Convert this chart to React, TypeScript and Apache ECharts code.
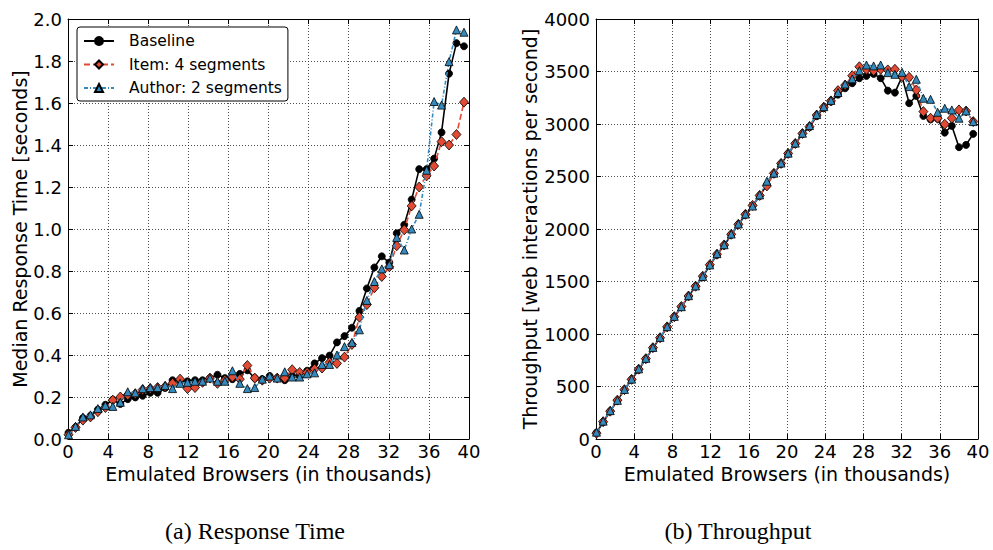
import React, { useEffect, useRef } from "react";
import * as echarts from "echarts";

// Emulated browsers (thousands)
const browsers = [
  0.05, 0.75, 1.49, 2.24, 2.98, 3.73, 4.47, 5.22, 5.96, 6.71, 7.45, 8.2, 8.94, 9.69,
  10.43, 11.18, 11.92, 12.67, 13.42, 14.16, 14.91, 15.65, 16.4, 17.14, 17.89, 18.63,
  19.38, 20.12, 20.87, 21.62, 22.36, 23.11, 23.85, 24.6, 25.34, 26.09, 26.83, 27.58,
  28.32, 29.07, 29.81, 30.56, 31.3, 32.05, 32.79, 33.54, 34.28, 35.03, 35.77, 36.52,
  37.26, 38.01, 38.75, 39.5,
];

const seriesNames = ["Baseline", "Item: 4 segments", "Author: 2 segments"];

// Median response time (seconds)
const rtBaseline = [
  0.03, 0.056, 0.1, 0.11, 0.14, 0.163, 0.187, 0.167, 0.19, 0.198, 0.206, 0.22, 0.22, 0.243,
  0.28, 0.278, 0.275, 0.28, 0.28, 0.29, 0.306, 0.29, 0.285, 0.31, 0.327, 0.29, 0.285, 0.3,
  0.29, 0.28, 0.3, 0.3, 0.325, 0.36, 0.385, 0.397, 0.46, 0.49, 0.53, 0.61, 0.717, 0.817,
  0.87, 0.84, 0.98, 1.02, 1.14, 1.285, 1.285, 1.335, 1.46, 1.74, 1.885, 1.87,
];
const rtItem = [
  0.02, 0.055, 0.09, 0.105, 0.13, 0.15, 0.185, 0.2, 0.21, 0.215, 0.235, 0.24, 0.245, 0.25,
  0.265, 0.285, 0.24, 0.245, 0.27, 0.29, 0.265, 0.28, 0.295, 0.285, 0.35, 0.29, 0.28, 0.29,
  0.29, 0.29, 0.33, 0.317, 0.317, 0.333, 0.338, 0.365, 0.36, 0.39, 0.45, 0.58, 0.64, 0.72,
  0.774, 0.82, 0.92, 0.996, 1.11, 1.2, 1.253, 1.3, 1.416, 1.4, 1.45, 1.604,
];
const rtAuthor = [
  0.02, 0.06, 0.105, 0.115, 0.145, 0.16, 0.155, 0.175, 0.225, 0.22, 0.24, 0.245, 0.245, 0.255,
  0.24, 0.265, 0.27, 0.275, 0.275, 0.29, 0.275, 0.275, 0.325, 0.265, 0.24, 0.245, 0.285, 0.3,
  0.29, 0.32, 0.295, 0.295, 0.31, 0.315, 0.355, 0.355, 0.4, 0.44, 0.46, 0.52, 0.66, 0.75,
  0.81, 0.83, 0.96, 0.9, 1.0, 1.07, 1.28, 1.607, 1.59, 1.797, 1.948, 1.937,
];

// Throughput (web interactions per second)
const tpBaseline = [
  60, 160, 263, 365, 468, 565, 660, 761, 866, 961, 1063, 1161, 1256, 1358, 1453, 1545,
  1653, 1754, 1843, 1945, 2040, 2135, 2222, 2315, 2420, 2525, 2620, 2715, 2810, 2906,
  2969, 3075, 3150, 3213, 3280, 3340, 3388, 3436, 3458, 3477, 3436, 3318, 3299, 3451,
  3198, 3267, 3077, 3044, 3051, 2918, 2982, 2779, 2801, 2906,
];
const tpItem = [
  55, 165, 265, 370, 470, 568, 665, 765, 870, 965, 1068, 1165, 1262, 1362, 1455, 1550,
  1660, 1760, 1848, 1950, 2045, 2140, 2225, 2320, 2410, 2530, 2625, 2720, 2815, 2910,
  2975, 3085, 3160, 3220, 3318, 3370, 3460, 3545, 3520, 3508, 3521, 3515, 3521, 3451,
  3445, 3324, 3118, 3055, 3055, 2998, 3055, 3134, 3124, 3023,
];
const tpAuthor = [
  65, 170, 270, 368, 472, 570, 668, 768, 872, 968, 1070, 1168, 1260, 1365, 1458, 1548,
  1658, 1765, 1850, 1952, 2048, 2142, 2218, 2325, 2455, 2532, 2628, 2722, 2818, 2912,
  2985, 3090, 3165, 3225, 3300, 3381, 3430, 3508, 3562, 3553, 3562, 3489, 3473, 3492,
  3356, 3426, 3245, 3235, 3112, 3150, 3134, 3055, 3124, 3023,
];

const xTicks = { min: 0, max: 40, interval: 4 };
const rtTicks = { min: 0, max: 2, interval: 0.2 };
const tpTicks = { min: 0, max: 4000, interval: 500 };

const FONT = "DejaVu Sans";
const RED = "#E24A33";
const BLUE = "#348ABD";

function pairs(vals: number[]) {
  return browsers.map((x, i) => [x, vals[i]]);
}

const tick = { show: true, inside: true, length: 5, lineStyle: { color: "#000", width: 1 } };
const axisLine = { show: true, onZero: false, lineStyle: { color: "#000", width: 1 } };
const split = { show: true, lineStyle: { color: "#222", width: 0.8, type: [1, 2] as any } };
const nameStyle = { color: "#000", fontSize: 19, fontFamily: FONT };

function xAxes(gridIndex: number) {
  return [
    {
      type: "value", gridIndex, ...xTicks, position: "bottom",
      axisLine, axisTick: tick, splitLine: split,
      axisLabel: { color: "#000", fontSize: 18, fontFamily: FONT, margin: 3 },
      name: "Emulated Browsers (in thousands)", nameLocation: "middle", nameGap: 19,
      nameTextStyle: nameStyle,
    },
    {
      type: "value", gridIndex, ...xTicks, position: "top",
      axisLine, axisTick: tick, splitLine: { show: false }, axisLabel: { show: false },
    },
  ];
}

function yAxes(gridIndex: number, ticks: any, name: string, gap: number, fmt: (v: number) => string) {
  return [
    {
      type: "value", gridIndex, ...ticks, position: "left",
      axisLine, axisTick: tick, splitLine: split,
      axisLabel: { color: "#000", fontSize: 18, fontFamily: FONT, margin: 6, formatter: fmt },
      name, nameLocation: "middle", nameGap: gap, nameTextStyle: nameStyle,
    },
    {
      type: "value", gridIndex, ...ticks, position: "right",
      axisLine, axisTick: tick, splitLine: { show: false }, axisLabel: { show: false },
    },
  ];
}

function makeSeries(xi: number, yi: number, b: number[], it: number[], au: number[]) {
  return [
    {
      name: seriesNames[0], type: "line", xAxisIndex: xi, yAxisIndex: yi, data: pairs(b),
      symbol: "circle", symbolSize: 7,
      itemStyle: { color: "#000", borderColor: "#000", borderWidth: 0.8 },
      lineStyle: { color: "#000", width: 1.6, type: "solid" },
      z: 2,
    },
    {
      name: seriesNames[1], type: "line", xAxisIndex: xi, yAxisIndex: yi, data: pairs(it),
      symbol: "diamond", symbolSize: [9, 10],
      itemStyle: { color: RED, borderColor: "#000", borderWidth: 0.8 },
      lineStyle: { color: RED, width: 1.6, type: [6, 3] },
      z: 3,
    },
    {
      name: seriesNames[2], type: "line", xAxisIndex: xi, yAxisIndex: yi, data: pairs(au),
      symbol: "triangle", symbolSize: 8,
      itemStyle: { color: BLUE, borderColor: "#000", borderWidth: 0.8 },
      lineStyle: { color: BLUE, width: 1.6, type: [4, 2, 1, 2] },
      z: 4,
    },
  ];
}

export default function App() {
  const ref = useRef<HTMLDivElement>(null);
  useEffect(() => {
    if (!ref.current) return;
    const chart = echarts.init(ref.current, undefined, { renderer: "svg" });
    chart.setOption({
      animation: false,
      backgroundColor: "#fff",
      grid: [
        { left: 68, top: 19, width: 401, height: 420 },
        { left: 596, top: 19, width: 382, height: 420 },
      ],
      xAxis: [...xAxes(0), ...xAxes(1)],
      yAxis: [
        ...yAxes(0, rtTicks, "Median Response Time [seconds]", 38, (v: number) => v.toFixed(1)),
        ...yAxes(1, tpTicks, "Throughput [web interactions per second]", 57, (v: number) => String(v)),
      ],
      legend: {
        left: 77, top: 27, orient: "vertical",
        data: seriesNames,
        backgroundColor: "#fff",
        borderColor: "#000", borderWidth: 1, borderRadius: 3,
        padding: [6, 6, 5, 6],
        itemWidth: 30, itemHeight: 10, itemGap: 7.5,
        textStyle: { color: "#000", fontSize: 15.5, fontFamily: FONT, padding: [0, 0, 0, 10] },
      },
      series: [
        ...makeSeries(0, 0, rtBaseline, rtItem, rtAuthor),
        ...makeSeries(2, 2, tpBaseline, tpItem, tpAuthor),
      ],
      graphic: [
        {
          type: "text", x: 255, y: 531,
          style: { text: "(a) Response Time", font: '24px "Liberation Serif"', fill: "#000", textAlign: "center", textVerticalAlign: "middle" },
        },
        {
          type: "text", x: 738, y: 531,
          style: { text: "(b) Throughput", font: '24px "Liberation Serif"', fill: "#000", textAlign: "center", textVerticalAlign: "middle" },
        },
      ],
    });
    return () => chart.dispose();
  }, []);
  return (
    <div
      ref={ref}
      style={{ position: "fixed", left: 0, top: 0, width: 993, height: 550, background: "#fff" }}
    />
  );
}
